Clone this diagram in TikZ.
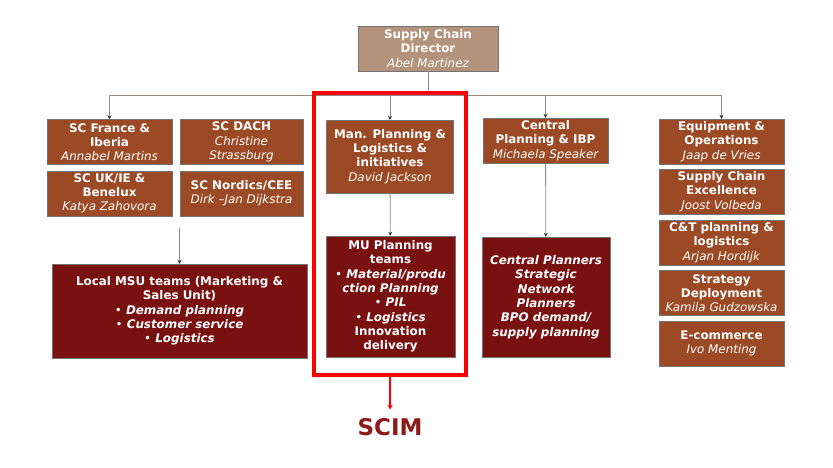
\documentclass[tikz,border=0pt]{standalone}
\usepackage{fontspec}
\setmainfont{DejaVu Sans}
\usetikzlibrary{arrows.meta}
\definecolor{unitbrown}{HTML}{9C4A25}
\definecolor{teamred}{HTML}{7A1111}
\definecolor{bosstan}{HTML}{B3937C}
\definecolor{linkgray}{HTML}{948A84}
\definecolor{scimred}{HTML}{8E1B1B}
\newcommand{\who}[1]{{\mdseries\itshape #1}}
\newcommand{\itm}[1]{{\mdseries\textbullet}\ \textit{#1}}
\tikzset{
  box/.style={
    draw=black!55,
    thin,
    text=white,
    font=\fontsize{11.9}{14.3}\selectfont\bfseries,
    align=center,
    inner sep=1pt
  },
  unit/.style={
    box,
    fill=unitbrown,
    minimum width=125pt,
    minimum height=45pt
  },
  team/.style={
    box,
    fill=teamred
  },
  boss/.style={
    box,
    fill=bosstan,
    minimum width=140pt,
    minimum height=45pt
  },
  wire/.style={
    draw=linkgray,
    line width=0.8pt
  },
  link/.style={
    wire,
    -{Stealth[length=4pt,width=4pt,color=black!80]}
  },
  scimframe/.style={
    draw=red,
    line width=3.5pt,
    minimum width=152pt,
    minimum height=282pt
  }
}

\begin{document}
\begin{tikzpicture}[x=1pt,y=-1pt]
        \useasboundingbox (0,0) rectangle (833,468);
        \fill[white] (0,0) rectangle (833,468);
        % top
        \node[boss] (dir) at (428,48.5) {Supply Chain\\Director\\\who{Abel Martinez}};
        % markets
        \node[unit] (fr) at (109.5,142) {SC France \&\\Iberia\\\who{Annabel Martins}};
        \node[unit,minimum width=123pt] (dach) at (241.5,142) {SC DACH\\\who{Christine}\\\who{Strassburg}};
        \node[unit] (uk) at (109.5,193.5) {SC UK/IE \&\\Benelux\\\who{Katya Zahovora}};
        \node[unit,minimum width=123pt] (nord) at (241.5,193.5) {SC Nordics/CEE\\\who{Dirk –Jan Dijkstra}};
        \node[team,minimum width=255pt,minimum height=94pt] (msu) at (179.5,311)
          {Local MSU teams (Marketing \&\\Sales Unit)\\\itm{Demand planning}\\\itm{Customer service}\\\itm{Logistics}};
        % manufacturing
        \node[unit,minimum width=127pt,minimum height=73pt] (man) at (390,156.5) {Man. Planning \&\\Logistics \&\\initiatives\\\who{David Jackson}};
        \node[team,minimum width=129pt,minimum height=121pt] (mu) at (390.5,296.5)
          {MU Planning\\teams\\\itm{Material/produ}\\\textit{ction Planning}\\\itm{PIL}\\\itm{Logistics}\\Innovation\\delivery};
        % central planning
        \node[unit] (cen) at (545.5,140.5) {Central\\Planning \& IBP\\\who{Michaela Speaker}};
        \node[team,minimum width=128pt,minimum height=120pt,font=\fontsize{11.9}{14.4}\selectfont\bfseries\itshape] (cpl) at (546,297)
          {Central Planners\\Strategic\\Network\\Planners\\BPO demand/\\supply planning};
        % right column
        \node[unit] (eq) at (721.5,141.5) {Equipment \&\\Operations\\\who{Jaap de Vries}};
        \node[unit] (sce) at (721.5,191.5) {Supply Chain\\Excellence\\\who{Joost Volbeda}};
        \node[unit] (ct) at (721.5,242.5) {C\&T planning \&\\logistics\\\who{Arjan Hordijk}};
        \node[unit] (strat) at (721.5,293) {Strategy\\Deployment\\\who{Kamila Gudzowska}};
        \node[unit] (ecom) at (721.5,343.5) {E-commerce\\\who{Ivo Menting}};
        % connectors
        \coordinate (bus) at (428,95);
        \coordinate (scgrp) at (179.5,228);
        \draw[wire] (dir.south) -- (bus);
        \draw[link] (bus) -| (fr);
        \draw[link] (bus) -| (man);
        \draw[link] (bus) -| (cen);
        \draw[link] (bus) -| (eq);
        \draw[link] (man) -- (mu);
        \draw[link] (cen) -- (cpl);
        \draw[link] (scgrp) -- (msu);
        % SCIM
        \node[scimframe] (scimbox) at (390,234) {};
        \node[font=\fontsize{23}{23}\selectfont\bfseries,text=scimred,inner sep=0pt,anchor=base] (scim) at (390,435) {SCIM};
        \draw[red,line width=1.2pt,-{Stealth[length=5pt,width=5pt]}] (scimbox.south) -- ([yshift=8pt]scim.north);
    \end{tikzpicture}
\end{document}
